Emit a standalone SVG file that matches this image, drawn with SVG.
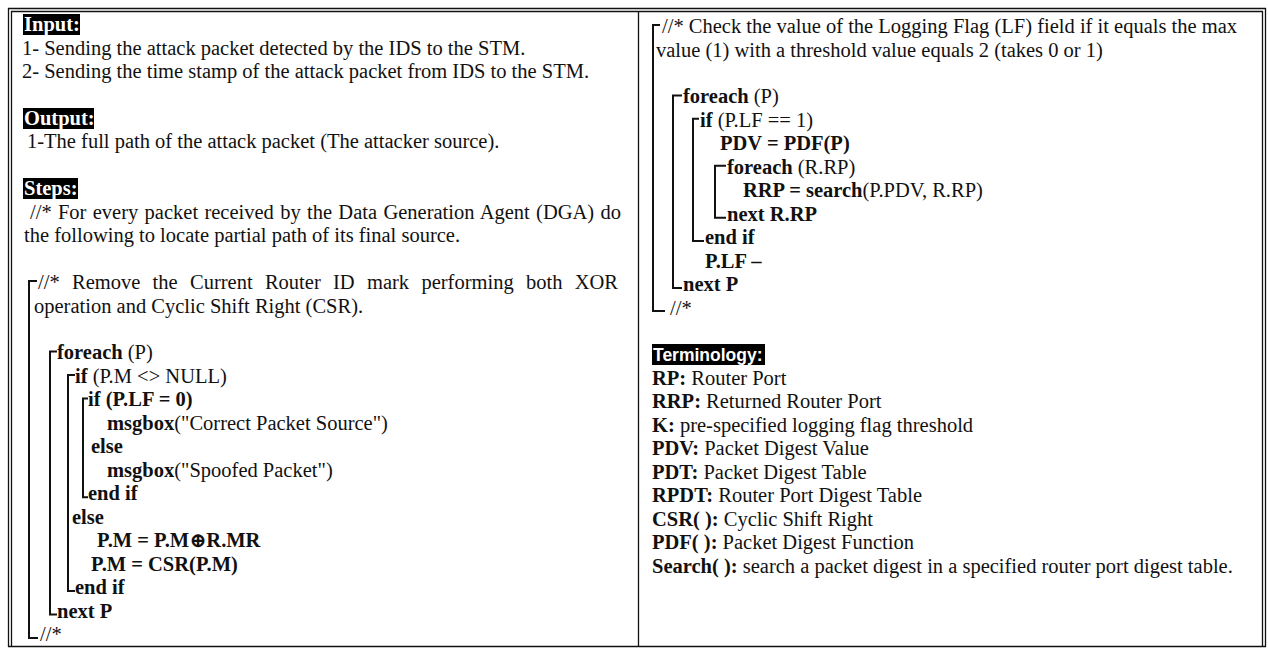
<svg xmlns="http://www.w3.org/2000/svg" width="1268" height="649" viewBox="0 0 1268 649" xml:space="preserve">
<style>
.t{font-family:"Liberation Serif","DejaVu Serif",serif;font-size:20.5px;fill:#111}
.b{font-weight:bold}
.hd{font-family:"Liberation Serif",serif;font-size:20.5px;font-weight:bold;fill:#fff}
.hs{font-family:"Liberation Sans",Arial,sans-serif;font-size:17.5px;font-weight:bold;fill:#fff}
.lb{fill:#000}
.fr{fill:none;stroke:#111;stroke-width:1.3}
.br{fill:none;stroke:#111;stroke-width:2}
</style>
<rect width="1268" height="649" fill="#fff"/>

<!-- table frame -->
<g id="frame">
<path class="fr" d="M8,8.5H1266M11,11.5H1263"/>
<path class="fr" d="M8.5,8V647M11.5,11V647"/>
<path class="fr" d="M1265.5,8V647M1262.5,11V647"/>
<path class="fr" d="M8,646.5H1266" stroke="#555"/>
<path class="fr" d="M638.5,11V647" stroke-width="1.6"/>
</g>

<!-- left cell: input, output, steps -->
<g id="left-cell">
<rect class="lb" x="23" y="14" width="57" height="21"/>
<text class="hd" x="24" y="31">Input:</text>
<text class="t" x="22" y="54.5">1-  Sending the attack packet detected by the IDS to the STM.</text>
<text class="t" x="22" y="78">2-  Sending the time stamp of the attack packet from IDS to the STM.</text>
<rect class="lb" x="23" y="108" width="71" height="21"/>
<text class="hd" x="24" y="125">Output:</text>
<text class="t" x="27" y="148.3">1-The full path of the attack packet (The attacker source).</text>
<rect class="lb" x="23" y="178" width="55" height="21"/>
<text class="hd" x="24" y="195">Steps:</text>
<text class="t" x="30" y="218.7" word-spacing="1.2">//* For every packet received by the Data Generation Agent (DGA) do</text>
<text class="t" x="24" y="242.1">the following to locate partial path of its final source.</text>
<text class="t" x="38" y="289.1" word-spacing="7.2">//* Remove the Current Router ID mark performing both XOR</text>
<text class="t" x="34" y="312.5">operation and  Cyclic Shift Right (CSR).</text>
</g>

<!-- left cell: pseudo-code -->
<g id="left-code">
<text class="t" x="57" y="359.4"><tspan class="b">foreach</tspan> (P)</text>
<text class="t" x="75" y="382.9"><tspan class="b">if</tspan> (P.M &lt;&gt; NULL)</text>
<text class="t b" x="88" y="406.4">if (P.LF = 0)</text>
<text class="t" x="107" y="429.8"><tspan class="b">msgbox</tspan>("Correct Packet Source")</text>
<text class="t b" x="91" y="453.3">else</text>
<text class="t" x="107" y="476.7"><tspan class="b">msgbox</tspan>("Spoofed Packet")</text>
<text class="t b" x="88" y="500.2">end if</text>
<text class="t b" x="72" y="523.7">else</text>
<text class="t b" x="97" y="547.1">P.M = P.M⊕R.MR</text>
<text class="t b" x="91" y="570.6">P.M = CSR(P.M)</text>
<text class="t b" x="75" y="594">end if</text>
<text class="t b" x="57" y="617.5">next P</text>
<text class="t" x="40" y="641">//*</text>
</g>

<!-- right cell: pseudo-code -->
<g id="right-code">
<text class="t" x="662" y="33">//* Check the value of the Logging Flag (LF) field if it equals the max</text>
<text class="t" x="656" y="56.5">value (1) with a threshold value equals 2 (takes 0 or 1)</text>
<text class="t" x="683" y="103.4"><tspan class="b">foreach</tspan> (P)</text>
<text class="t" x="700" y="126.8"><tspan class="b">if</tspan> (P.LF == 1)</text>
<text class="t b" x="720" y="150.3">PDV = PDF(P)</text>
<text class="t" x="727" y="173.8"><tspan class="b">foreach</tspan> (R.RP)</text>
<text class="t" x="743" y="197.2"><tspan class="b">RRP = search</tspan>(P.PDV, R.RP)</text>
<text class="t b" x="727" y="220.7">next R.RP</text>
<text class="t b" x="705" y="244.1">end if</text>
<text class="t b" x="705" y="267.6">P.LF –</text>
<text class="t b" x="683" y="291.1">next P</text>
<text class="t" x="670" y="314.5">//*</text>
</g>

<!-- right cell: terminology -->
<g id="terminology">
<rect class="lb" x="652" y="344" width="113" height="21"/>
<text class="hs" x="653" y="361">Terminology:</text>
<text class="t" x="652" y="384.9"><tspan class="b">RP:</tspan> Router Port</text>
<text class="t" x="652" y="408.4"><tspan class="b">RRP:</tspan> Returned Router Port</text>
<text class="t" x="652" y="431.8"><tspan class="b">K:</tspan> pre-specified logging flag threshold</text>
<text class="t" x="652" y="455.3"><tspan class="b">PDV:</tspan> Packet Digest Value</text>
<text class="t" x="652" y="478.7"><tspan class="b">PDT:</tspan> Packet Digest Table</text>
<text class="t" x="652" y="502.2"><tspan class="b">RPDT:</tspan> Router Port Digest Table</text>
<text class="t" x="652" y="525.7"><tspan class="b">CSR( ):</tspan> Cyclic Shift Right</text>
<text class="t" x="652" y="549.1"><tspan class="b">PDF( ):</tspan> Packet Digest Function</text>
<text class="t" x="652" y="572.6"><tspan class="b">Search( ):</tspan> search a packet digest in a specified router port digest table.</text>
</g>

<!-- block brackets -->
<g id="connectors">
<path class="br" d="M37,281H29V638H38"/>
<path class="br" d="M57,351.4H50V614.5H57"/>
<path class="br" d="M75,374.9H68V591H75"/>
<path class="br" d="M88,398.4H83V497.2H88"/>
<path class="br" d="M660,25H653V311H665"/>
<path class="br" d="M682,95.4H673V288H682"/>
<path class="br" d="M699,118.8H693V241H704"/>
<path class="br" d="M726,165.8H715V217.7H726"/>
</g>
</svg>
